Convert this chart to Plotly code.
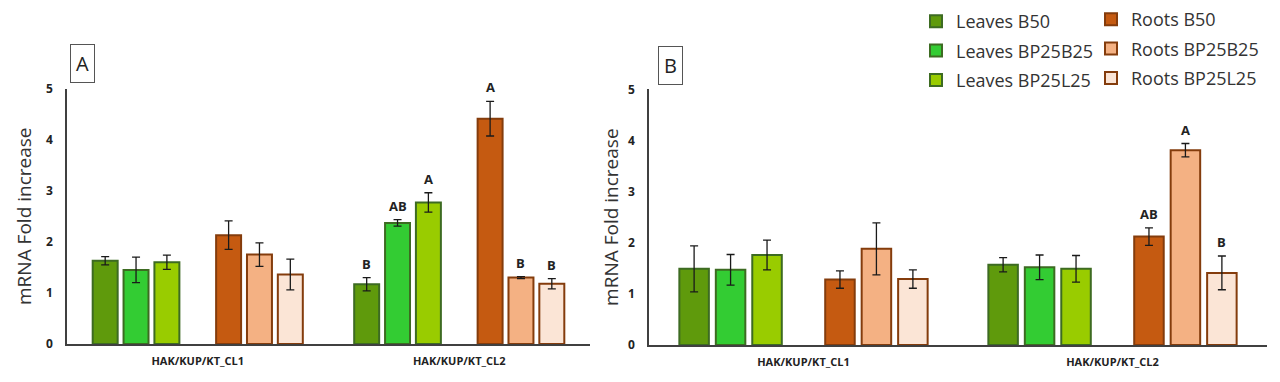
import plotly.graph_objects as go

categories = ["HAK/KUP/KT_CL1", "HAK/KUP/KT_CL2"]
series_names = ["Leaves B50", "Leaves BP25B25", "Leaves BP25L25",
                "Roots B50", "Roots BP25B25", "Roots BP25L25"]

# Panel A means / errors (per series, [CL1, CL2])
A_leaves_B50 = [1.63, 1.17]
A_leaves_BP25B25 = [1.45, 2.37]
A_leaves_BP25L25 = [1.60, 2.77]
A_roots_B50 = [2.13, 4.41]
A_roots_BP25B25 = [1.75, 1.30]
A_roots_BP25L25 = [1.36, 1.18]

A_err_leaves_B50 = [0.08, 0.13]
A_err_leaves_BP25B25 = [0.25, 0.065]
A_err_leaves_BP25L25 = [0.14, 0.19]
A_err_roots_B50 = [0.28, 0.34]
A_err_roots_BP25B25 = [0.23, 0.02]
A_err_roots_BP25L25 = [0.30, 0.10]

A_letters_leaves_B50 = ["", "B"]
A_letters_leaves_BP25B25 = ["", "AB"]
A_letters_leaves_BP25L25 = ["", "A"]
A_letters_roots_B50 = ["", "A"]
A_letters_roots_BP25B25 = ["", "B"]
A_letters_roots_BP25L25 = ["", "B"]

# Panel B means / errors
B_leaves_B50 = [1.49, 1.57]
B_leaves_BP25B25 = [1.47, 1.52]
B_leaves_BP25L25 = [1.76, 1.49]
B_roots_B50 = [1.28, 2.12]
B_roots_BP25B25 = [1.88, 3.81]
B_roots_BP25L25 = [1.29, 1.41]

B_err_leaves_B50 = [0.45, 0.14]
B_err_leaves_BP25B25 = [0.30, 0.24]
B_err_leaves_BP25L25 = [0.29, 0.26]
B_err_roots_B50 = [0.17, 0.17]
B_err_roots_BP25B25 = [0.51, 0.13]
B_err_roots_BP25L25 = [0.18, 0.33]

B_letters_leaves_B50 = ["", ""]
B_letters_leaves_BP25B25 = ["", ""]
B_letters_leaves_BP25L25 = ["", ""]
B_letters_roots_B50 = ["", "AB"]
B_letters_roots_BP25B25 = ["", "A"]
B_letters_roots_BP25L25 = ["", "B"]

y_ticks = [0, 1, 2, 3, 4, 5]

# ---- styles / layout helpers ----
W, H = 1264, 366          # figure size (page body adds an 8px margin)
OFF = 8


def px(x):
    return (x - OFF) / W


def py(y):
    return 1 - (y - OFF) / H


fills = ["#5f9a0c", "#33cc33", "#99cc00", "#c55a11", "#f4b183", "#fbe5d6"]
lines = ["#3d6b22", "#3d6b22", "#3d6b22", "#843c0c", "#843c0c", "#843c0c"]
slots = [-3, -2, -1, 1, 2, 3]
slot_w = 0.118
bar_w = 0.0955

panelA = [
    (A_leaves_B50, A_err_leaves_B50, A_letters_leaves_B50),
    (A_leaves_BP25B25, A_err_leaves_BP25B25, A_letters_leaves_BP25B25),
    (A_leaves_BP25L25, A_err_leaves_BP25L25, A_letters_leaves_BP25L25),
    (A_roots_B50, A_err_roots_B50, A_letters_roots_B50),
    (A_roots_BP25B25, A_err_roots_BP25B25, A_letters_roots_BP25B25),
    (A_roots_BP25L25, A_err_roots_BP25L25, A_letters_roots_BP25L25),
]
panelB = [
    (B_leaves_B50, B_err_leaves_B50, B_letters_leaves_B50),
    (B_leaves_BP25B25, B_err_leaves_BP25B25, B_letters_leaves_BP25B25),
    (B_leaves_BP25L25, B_err_leaves_BP25L25, B_letters_leaves_BP25L25),
    (B_roots_B50, B_err_roots_B50, B_letters_roots_B50),
    (B_roots_BP25B25, B_err_roots_BP25B25, B_letters_roots_BP25B25),
    (B_roots_BP25L25, B_err_roots_BP25L25, B_letters_roots_BP25L25),
]

fig = go.Figure()
annotations = []

for p_idx, (panel, xa, ya) in enumerate([(panelA, "x", "y"), (panelB, "x2", "y2")]):
    for i, (vals, errs, letters) in enumerate(panel):
        center = slots[i] * slot_w
        fig.add_trace(go.Bar(
            x=categories, y=vals,
            xaxis=xa, yaxis=ya,
            name=series_names[i],
            legend="legend" if i < 3 else "legend2",
            legendgroup=series_names[i],
            showlegend=(p_idx == 0),
            width=bar_w,
            offset=center - bar_w / 2,
            marker=dict(color=fills[i], line=dict(color=lines[i], width=2)),
            error_y=dict(type="data", array=errs, visible=True,
                         color="#1a1a1a", thickness=1.3, width=4),
        ))
        for c, (v, e, t) in enumerate(zip(vals, errs, letters)):
            if t:
                annotations.append(dict(
                    x=c + center, y=v + e, xref=xa, yref=ya,
                    text=f"<b>{t}</b>", showarrow=False,
                    yanchor="bottom", yshift=3,
                    font=dict(family="Open Sans", size=13, color="#222222"),
                ))

# panel labels
for lab, cx, cy in [("A", 82, 64), ("B", 670, 65.5)]:
    annotations.append(dict(
        x=px(cx), y=py(cy), xref="paper", yref="paper", text=lab, showarrow=False,
        xanchor="center", yanchor="middle",
        font=dict(family="Open Sans", size=20, color="#222222"),
        bordercolor="#555555", borderwidth=1, borderpad=5, bgcolor="white",
    ))

axis_common = dict(showgrid=False, zeroline=False, showline=True,
                   linecolor="#404040", linewidth=1.5)
xtick_font = dict(family="Open Sans", size=11, color="#222222", weight="bold")
ytick_font = dict(family="Open Sans", size=12, color="#222222", weight="bold")
ytitle_font = dict(family="Open Sans", size=19, color="#333333")
legend_font = dict(family="Open Sans", size=18, color="#333333")

fig.update_layout(
    width=W, height=H,
    margin=dict(l=0, r=0, t=0, b=0, autoexpand=False),
    paper_bgcolor="white", plot_bgcolor="white",
    barmode="overlay",
    annotations=annotations,
    xaxis=dict(domain=[px(67), px(590)], anchor="y", type="category",
               range=[-0.5, 1.5], ticks="", ticklabelstandoff=6,
               tickfont=xtick_font, **axis_common),
    xaxis2=dict(domain=[px(649), px(1267)], anchor="y2", type="category",
                range=[-0.5, 1.5], ticks="", ticklabelstandoff=6,
                tickfont=xtick_font, **axis_common),
    yaxis=dict(domain=[py(344), py(88.5)], anchor="x", range=[0, 5],
               tickvals=y_ticks, ticks="", ticklabelstandoff=10,
               tickfont=ytick_font,
               title=dict(text="mRNA Fold increase", standoff=9, font=ytitle_font),
               **axis_common),
    yaxis2=dict(domain=[py(345), py(89.3)], anchor="x2", range=[0, 5],
                tickvals=y_ticks, ticks="", ticklabelstandoff=10,
                tickfont=ytick_font,
                title=dict(text="mRNA Fold increase", standoff=4, font=ytitle_font),
                **axis_common),
    legend=dict(x=px(916), y=py(3), xanchor="left", yanchor="top",
                font=legend_font, traceorder="grouped", tracegroupgap=3,
                itemwidth=30, bgcolor="rgba(0,0,0,0)"),
    legend2=dict(x=px(1091), y=py(1), xanchor="left", yanchor="top",
                 font=legend_font, traceorder="grouped", tracegroupgap=3,
                 itemwidth=30, bgcolor="rgba(0,0,0,0)"),
)

fig.write_html("out.html")
